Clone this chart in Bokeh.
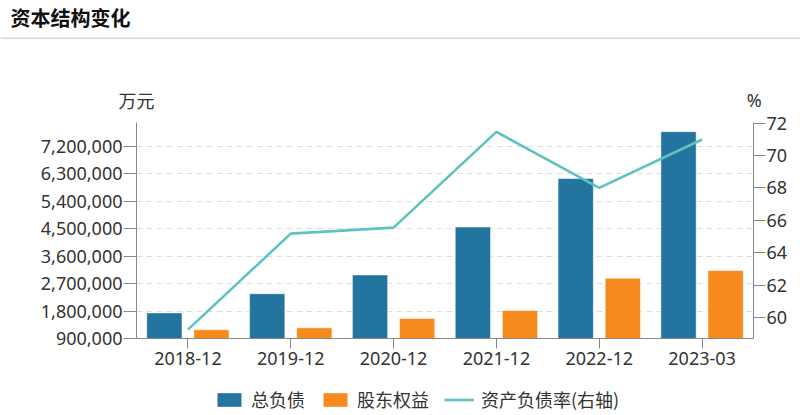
from bokeh.plotting import figure
from bokeh.models import (Range1d, FactorRange, LinearAxis, FixedTicker, NumeralTickFormatter,
                          Label, Span, Legend, LegendItem, ColumnDataSource)
from bokeh.transform import dodge
from bokeh.layouts import column
from bokeh.embed import file_html
from bokeh.resources import INLINE

categories = ["2018-12", "2019-12", "2020-12", "2021-12", "2022-12", "2023-03"]
total_liabilities = [1740000, 2370000, 2985000, 4560000, 6150000, 7690000]
equity = [1185000, 1250000, 1560000, 1820000, 2880000, 3130000]
debt_ratio = [59.26, 65.18, 65.55, 71.46, 68.01, 70.99]
left_ticks = [900000, 1800000, 2700000, 3600000, 4500000, 5400000, 6300000, 7200000]
right_ticks = [60, 62, 64, 66, 68, 70, 72]

BLUE = "#23759f"
ORANGE = "#f68a1e"
TEAL = "#5ec2c1"
TXT = "#333333"
CJK = "Noto Sans CJK SC"
LAT = "Noto Sans"
W = 800


def blank(height):
    f = figure(width=W, height=height, x_range=Range1d(0, W), y_range=Range1d(0, height),
               output_backend="svg", toolbar_location=None, min_border=0,
               x_axis_type=None, y_axis_type=None, frame_align=False)
    f.outline_line_color = None
    f.xgrid.visible = False
    f.ygrid.visible = False
    return f


# ---- header: title, rule, unit labels ----
HH = 111
h = blank(HH)
h.add_layout(Label(x=10, y=HH - 16.7, text="资本结构变化", text_font=CJK, text_font_size="20px",
                   text_font_style="bold", text_color="#111111", text_baseline="middle"))
h.add_layout(Span(location=HH - 37.7, dimension="width", line_color="#d9d9d9", line_width=1.5))
h.add_layout(Label(x=136, y=HH - 99, text="万元", text_font=CJK, text_font_size="18px",
                   text_color=TXT, text_align="center", text_baseline="middle"))
h.add_layout(Label(x=753.8, y=HH - 99, text="%", text_font=LAT, text_font_size="18px",
                   text_color=TXT, text_align="center", text_baseline="middle"))

# ---- main chart ----
src = ColumnDataSource(dict(cat=categories, total=total_liabilities, eq=equity, ratio=debt_ratio))

MH = 267
p = figure(width=W, height=MH, x_range=FactorRange(*categories),
           y_range=Range1d(900000, 7990000), output_backend="svg", toolbar_location=None,
           min_border_left=136, min_border_right=47, min_border_top=11, min_border_bottom=40,
           frame_align=False)
p.extra_y_ranges = {"right": Range1d(58.71, 72.04)}
p.outline_line_color = None
p.xgrid.visible = False

base = p.y_range.start
r1 = p.vbar(x=dodge("cat", -0.229, range=p.x_range), top="total", bottom=base, width=0.343,
            source=src, fill_color=BLUE, line_color="#ffffff", line_alpha=0.5, line_width=1)
r2 = p.vbar(x=dodge("cat", 0.229, range=p.x_range), top="eq", bottom=base, width=0.343,
            source=src, fill_color=ORANGE, line_color="#ffffff", line_alpha=0.5, line_width=1)
r3 = p.line(x="cat", y="ratio", source=src, y_range_name="right", line_color=TEAL, line_width=2.6)

ya = p.yaxis[0]
ya.ticker = FixedTicker(ticks=left_ticks)
ya.formatter = NumeralTickFormatter(format="0,0")
p.ygrid.ticker = FixedTicker(ticks=left_ticks[1:])
p.ygrid.grid_line_color = "#dedede"
p.ygrid.grid_line_dash = "6 4"
p.ygrid.grid_line_width = 1

ra = LinearAxis(y_range_name="right", ticker=FixedTicker(ticks=right_ticks))
p.add_layout(ra, "right")

for ax in [ya, ra]:
    ax.major_tick_out = 13
    ax.major_tick_in = 0
    ax.minor_tick_out = 0
    ax.minor_tick_in = 0
    ax.major_label_standoff = 1
xa = p.xaxis[0]
for ax in [ya, ra, xa]:
    ax.axis_line_color = "#888888"
    ax.major_tick_line_color = "#888888"
    ax.major_label_text_font = LAT
    ax.major_label_text_font_size = "18px"
    ax.major_label_text_color = TXT
ra.major_tick_out = 12
xa.major_tick_out = 10
xa.major_tick_in = 0
xa.major_label_standoff = 3

# ---- footer: legend (swatch renderers have zero size, only the legend shows them) ----
FH = 415 - HH - MH
f = blank(FH)
swatch = ColumnDataSource(dict(x=[0], y=[0]))
g1 = f.vbar(x="x", top="y", bottom="y", width=0, source=swatch, fill_color=BLUE, line_color=None)
g2 = f.vbar(x="x", top="y", bottom="y", width=0, source=swatch, fill_color=ORANGE, line_color=None)
g3 = f.line(x="x", y="y", source=swatch, line_color=TEAL, line_width=2.6)
legend = Legend(items=[LegendItem(label="总负债", renderers=[g1]),
                       LegendItem(label="股东权益", renderers=[g2]),
                       LegendItem(label="资产负债率(右轴)", renderers=[g3])],
                orientation="horizontal", location=(214, 3),
                border_line_color=None, background_fill_alpha=0,
                label_text_font=CJK, label_text_font_size="18px", label_text_color=TXT,
                glyph_width=30, glyph_height=17, label_standoff=7, spacing=15,
                padding=0, margin=0)
f.add_layout(legend, "center")

layout = column(h, p, f, spacing=0)
open("out.html", "w").write(file_html(layout, INLINE))
